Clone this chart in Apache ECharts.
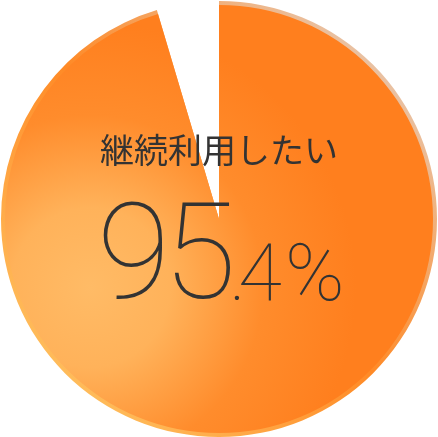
<!DOCTYPE html>
<html>
<head>
<meta charset="utf-8">
<script src="https://cdn.jsdelivr.net/npm/echarts@6/dist/echarts.min.js"></script>
<style>
	html, body { margin: 0; padding: 0; background: #fff; }
	#main { width: 438px; height: 437px; }
</style>
</head>
<body>
<div id="main"></div>
<script>
// 継続利用の割合
const categories = ['継続利用したい', 'その他'];
const values = [95.4, 4.6];
const labelTitle = categories[0];
const labelChars = ['9', '5', '.', '4', '%'];
const labelStyles = ['big', 'big', 'dot', 'small', 'pct'];

const chart = echarts.init(document.getElementById('main'), null, { renderer: 'canvas' });

const fill = {
	type: 'radial',
	x: 0.2,
	y: 0.66,
	r: 0.62,
	colorStops: [
		{ offset: 0, color: '#ffbb66' },
		{ offset: 0.3, color: '#ffb25a' },
		{ offset: 0.65, color: '#ff8c2c' },
		{ offset: 1, color: '#ff7f1e' },
	],
};
const rim = {
	type: 'linear',
	x: 0,
	y: 1,
	x2: 1,
	y2: 0,
	colorStops: [
		{ offset: 0, color: '#ffd070' },
		{ offset: 0.5, color: '#ff8a26' },
		{ offset: 1, color: '#e0d8d6' },
	],
};

const pieData = (color) =>
	categories.map((name, i) => ({
		name,
		value: values[i],
		itemStyle: { color: i === 0 ? color : 'rgba(0,0,0,0)' },
	}));

const numFont = { fontFamily: 'Roboto', fontWeight: 100, color: '#333', verticalAlign: 'bottom', lineHeight: 140 };

chart.setOption({
	backgroundColor: '#fff',
	animation: false,
	title: [
		{
			text: labelTitle,
			left: 'center',
			top: 128,
			textStyle: {
				fontFamily: 'Noto Sans CJK JP',
				fontWeight: 'normal',
				fontSize: 34,
				color: '#333',
			},
		},
		{
			text: labelChars.map((c, i) => `{${labelStyles[i]}|${c}}`).join(''),
			left: 92,
			top: 186,
			textStyle: {
				rich: {
					big: { ...numFont, fontSize: 134, width: 66 },
					dot: { ...numFont, fontSize: 80, width: 9, padding: [0, 0, 11, 0] },
					small: { ...numFont, fontSize: 80, width: 47, padding: [0, 0, 11, 0] },
					pct: { ...numFont, fontSize: 80, width: 58, padding: [0, 0, 11, 0] },
				},
			},
		},
	],
	series: [
		{
			type: 'pie',
			center: [219, 219],
			radius: [0, 218],
			startAngle: 90,
			silent: true,
			label: { show: false },
			labelLine: { show: false },
			data: pieData(rim),
		},
		{
			type: 'pie',
			center: [219, 219],
			radius: [0, 214],
			startAngle: 90,
			silent: true,
			label: { show: false },
			labelLine: { show: false },
			data: pieData(fill),
		},
	],
});
</script>
</body>
</html>
